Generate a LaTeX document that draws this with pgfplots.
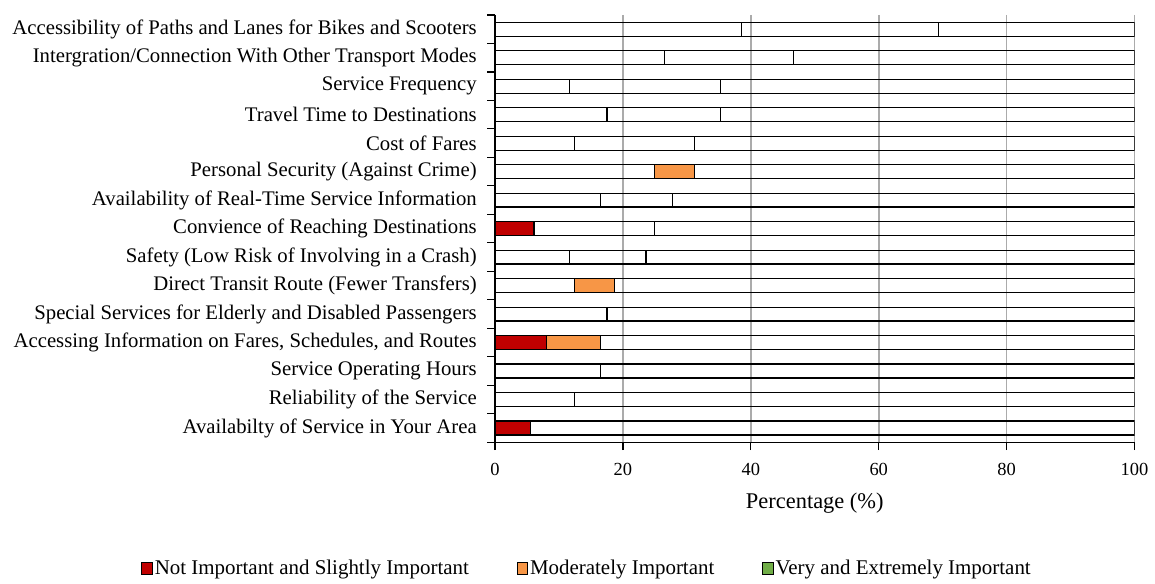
\documentclass[border=0pt]{standalone}
\usepackage{fontspec}
\setmainfont{Liberation Serif}
\usepackage{pgfplots}
\pgfplotsset{compat=1.18}
\definecolor{cRed}{HTML}{C00000}
\definecolor{cOrange}{HTML}{F79646}
\definecolor{cGreen}{HTML}{70AD47}
\definecolor{cGrid}{HTML}{ABABAB}
\newcommand{\fs}{\fontsize{11.3}{13.5}\selectfont}
\newcommand{\ft}{\fontsize{9.3}{11}\selectfont}
\newcommand{\fy}{\fontsize{10.45}{12.5}\selectfont}
\newcommand{\fl}{\fontsize{10.55}{12.5}\selectfont}
\pgfplotsset{sqleg/.style={legend image code/.code={\draw[##1, line width=0.5bp] (0bp,-2.9bp) rectangle (5.2bp,2.9bp);}}}
\begin{document}
\begin{tikzpicture}
\begin{axis}[
  scale only axis, width=321bp, height=214.5bp,
  xbar stacked, bar width=7bp,
  xmin=0, xmax=100, ymin=-0.5, ymax=14.5, y dir=reverse,
  axis x line*=bottom, axis y line*=left,
  axis line style={line width=0.6bp, black},
  xtick={0,20,...,100}, ytick={0,...,14},
  minor xtick={0,20,...,100},
  minor ytick={-0.5,0.5,...,14.5},
  tick align=outside,
  major tick length=0pt, minor tick length=4bp,
  minor tick style={line width=0.6bp, black},
  xmajorgrids, major grid style={cGrid, line width=0.85bp},
  /pgf/number format/assume math mode=true,
  xticklabel style={font=\ft, anchor=center, yshift=-13.5bp},
  yticklabel style={font=\fy, anchor=east, inner sep=0pt, xshift=-9bp},
  yticklabels={
    Accessibility of Paths and Lanes for Bikes and Scooters,
    Intergration/Connection With Other Transport Modes,
    Service Frequency\hspace{3bp},
    Travel Time to Destinations,
    Cost of Fares,
    Personal Security (Against Crime),
    Availability of Real-Time Service Information\hspace{3bp},
    Convience of Reaching Destinations,
    Safety (Low Risk of Involving in a Crash)\hspace{1bp},
    Direct Transit Route (Fewer Transfers),
    Special Services for Elderly and Disabled Passengers\hspace{3bp},
    {Accessing Information on Fares, Schedules, and Routes\hspace{3bp}},
    Service Operating Hours,
    Reliability of the Service,
    Availabilty of Service in Your Area\hspace{4bp}
  },
  xlabel={Percentage (\%)},
  xlabel style={font=\fs, at={(axis description cs:0.5,-0.143)}, anchor=center},
  legend columns=3,
  legend style={draw=none, fill=none, font=\fl, at={(axis description cs:0.144,-0.296)}, anchor=center,
    /tikz/every even column/.append style={column sep=23bp},
    nodes={inner sep=1bp}},
  every axis plot/.append style={draw=black, line width=0.6bp},
]
% segment 1, red
\addplot[fill=cRed, forget plot] coordinates {
(0,0) (0,1) (0,2) (0,3) (0,4) (0,5) (0,6) (6.1,7) (0,8) (0,9) (0,10) (8.1,11) (0,12) (0,13) (5.6,14)};
% segment 1, unfilled
\addplot[fill=none, forget plot] coordinates {
(38.6,0) (26.5,1) (11.6,2) (17.5,3) (12.4,4) (24.9,5) (16.5,6) (0,7) (11.6,8) (12.4,9) (17.5,10) (0,11) (16.5,12) (12.4,13) (0,14)};
% segment 2, orange
\addplot[fill=cOrange, forget plot] coordinates {
(0,0) (0,1) (0,2) (0,3) (0,4) (6.3,5) (0,6) (0,7) (0,8) (6.3,9) (0,10) (8.4,11) (0,12) (0,13) (0,14)};
% segment 2, unfilled
\addplot[fill=none, forget plot] coordinates {
(30.7,0) (20.2,1) (23.6,2) (17.7,3) (18.8,4) (0,5) (11.2,6) (18.8,7) (12.0,8) (0,9) (0,10) (0,11) (0,12) (0,13) (0,14)};
% segment 3, unfilled
\addplot[fill=none, forget plot] coordinates {
(30.7,0) (53.3,1) (64.8,2) (64.8,3) (68.8,4) (68.8,5) (72.3,6) (75.1,7) (76.4,8) (81.3,9) (82.5,10) (83.5,11) (83.5,12) (87.6,13) (94.4,14)};
\addlegendimage{sqleg, fill=cRed, draw=black}
\addlegendentry{Not Important and Slightly Important}
\addlegendimage{sqleg, fill=cOrange, draw=black}
\addlegendentry{Moderately Important}
\addlegendimage{sqleg, fill=cGreen, draw=black}
\addlegendentry{Very and Extremely Important}
\coordinate (SW) at (axis description cs:0,0);
\end{axis}
\path ([shift={(-248.5bp,-67.5bp)}]SW) rectangle ([shift={(329bp,222bp)}]SW);
\end{tikzpicture}
\end{document}
